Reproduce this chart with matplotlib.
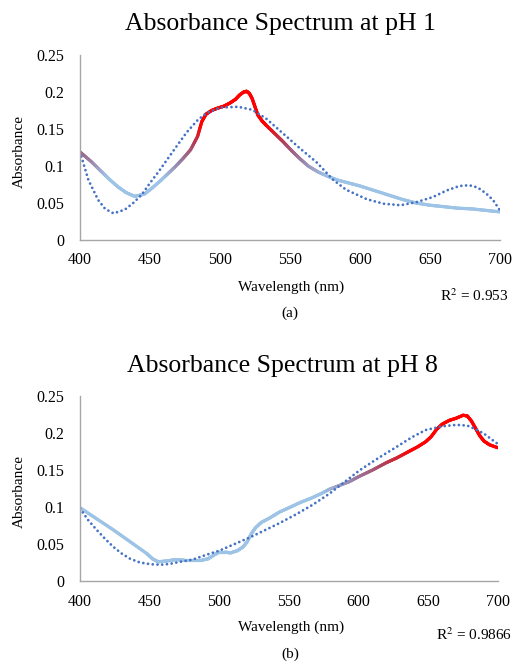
import numpy as np
import matplotlib
matplotlib.use("Agg")
import matplotlib.pyplot as plt
from matplotlib.collections import LineCollection
from matplotlib.colors import LinearSegmentedColormap, Normalize

plt.rcParams['font.family'] = ['Liberation Serif', 'DejaVu Serif']

# ---------------- data: pH 1 ----------------
ph1_nm = [400, 408, 415, 421, 427, 433, 439, 446, 452, 458, 463, 468, 474, 479, 484, 487,
          490, 494, 498, 503, 507, 511, 514, 517, 519, 521, 523, 525, 527, 530, 533, 539,
          545, 551, 557, 563, 570, 577, 584, 592, 600, 610, 620, 630, 640, 650, 660, 670,
          680, 690, 700]
ph1_abs = [0.119, 0.106, 0.093, 0.082, 0.072, 0.064, 0.059, 0.062, 0.071, 0.081, 0.090,
           0.099, 0.111, 0.122, 0.140, 0.160, 0.170, 0.175, 0.178, 0.181, 0.185, 0.190,
           0.196, 0.200, 0.201, 0.198, 0.191, 0.180, 0.169, 0.161, 0.155, 0.144, 0.133,
           0.121, 0.110, 0.100, 0.092, 0.086, 0.081, 0.077, 0.073, 0.067, 0.061, 0.055,
           0.050, 0.047, 0.045, 0.043, 0.042, 0.040, 0.038]
ph1_fit_nm = [400, 406, 413, 418, 424, 432, 438, 444, 450, 456, 462, 468, 476, 484, 490,
              500, 513, 523, 533, 545, 557, 569, 575, 581, 590, 605, 617, 629, 640, 652,
              662, 671, 678, 684, 690, 695, 700]
ph1_fit = [0.119, 0.081, 0.054, 0.042, 0.036, 0.041, 0.050, 0.061, 0.077, 0.092, 0.108,
           0.124, 0.145, 0.162, 0.171, 0.179, 0.180, 0.176, 0.164, 0.144, 0.124, 0.105,
           0.093, 0.081, 0.068, 0.055, 0.049, 0.047, 0.051, 0.058, 0.067, 0.073, 0.074,
           0.071, 0.063, 0.054, 0.040]
ph1_r2 = "0.953"

# ---------------- data: pH 8 ----------------
ph8_nm = [400, 412, 424, 436, 448, 452, 456, 462, 469, 475, 481, 487, 492, 496, 500, 504,
          508, 513, 517, 520, 523, 526, 530, 536, 543, 550, 558, 566, 573, 579, 586, 593,
          600, 610, 620, 627, 635, 642, 648, 652, 656, 660, 665, 670, 675, 678, 681, 684,
          687, 690, 694, 700]
ph8_abs = [0.099, 0.084, 0.069, 0.053, 0.037, 0.030, 0.026, 0.027, 0.029, 0.028, 0.028,
           0.028, 0.030, 0.035, 0.039, 0.039, 0.038, 0.041, 0.046, 0.053, 0.064, 0.072,
           0.079, 0.085, 0.093, 0.099, 0.106, 0.112, 0.118, 0.124, 0.129, 0.134, 0.141,
           0.150, 0.160, 0.166, 0.174, 0.181, 0.188, 0.195, 0.205, 0.212, 0.217, 0.220,
           0.224, 0.223, 0.216, 0.206, 0.196, 0.189, 0.184, 0.180]
ph8_fit_nm = [400, 406, 412, 418, 424, 430, 436, 443, 451, 458, 464, 472, 481, 490, 500,
              511, 522, 532, 543, 555, 567, 579, 590, 601, 614, 627, 638, 648, 660, 670,
              678, 684, 690, 695, 700]
ph8_fit = [0.098, 0.082, 0.069, 0.057, 0.046, 0.037, 0.030, 0.025, 0.0226, 0.022, 0.023,
           0.026, 0.029, 0.035, 0.041, 0.050, 0.059, 0.068, 0.078, 0.090, 0.103, 0.118,
           0.134, 0.150, 0.166, 0.181, 0.194, 0.204, 0.209, 0.211, 0.210, 0.205, 0.199,
           0.192, 0.185]
ph8_r2 = "0.9866"

x_ticks = [400, 450, 500, 550, 600, 650, 700]
y_ticks = [0, 0.05, 0.1, 0.15, 0.2, 0.25]
y_tick_labels = ["0", "0.05", "0.1", "0.15", "0.2", "0.25"]

# ---------------- style ----------------
W, H = 515, 661
fig = plt.figure(figsize=(W / 100, H / 100), dpi=100)
cmap = LinearSegmentedColormap.from_list(
    "bluered", ["#9DC3E6", "#9A7AA0", "#B0405A", "#FF0000"])
AX_GRAY = "#A6A6A6"
FIT_COLOR = "#4472C4"


def px_rect(left, top, right, bottom):
    return [left / W, 1 - bottom / H, (right - left) / W, (bottom - top) / H]


def gradient_line(ax, x, y, vmin, vmax):
    x = np.asarray(x, float)
    y = np.asarray(y, float)
    # subdivide each drawn segment for a smooth colour gradient (geometry unchanged)
    xs, ys = [], []
    for i in range(len(x) - 1):
        t = np.linspace(0, 1, 12, endpoint=False)
        xs.extend(x[i] + (x[i + 1] - x[i]) * t)
        ys.extend(y[i] + (y[i + 1] - y[i]) * t)
    xs.append(x[-1]); ys.append(y[-1])
    pts = np.column_stack([xs, ys]).reshape(-1, 1, 2)
    segs = np.concatenate([pts[:-1], pts[1:]], axis=1)
    mid = (np.array(ys[:-1]) + np.array(ys[1:])) / 2
    lc = LineCollection(segs, cmap=cmap, norm=Normalize(vmin, vmax),
                        linewidths=2.3, capstyle='round', joinstyle='round')
    lc.set_array(mid)
    ax.add_collection(lc)


def panel(rect, nm, ab, fnm, fit, vmin, vmax):
    ax = fig.add_axes(rect)
    gradient_line(ax, nm, ab, vmin, vmax)
    ax.plot(fnm, fit, color=FIT_COLOR, lw=2.0, linestyle=(0, (0.01, 1.7)),
            dash_capstyle='round')
    ax.set_xlim(400, 700)
    ax.set_ylim(0, 0.25)
    ax.set_xticks(x_ticks)
    ax.set_yticks(y_ticks)
    ax.set_yticklabels(y_tick_labels)
    for s in ("top", "right"):
        ax.spines[s].set_visible(False)
    for s in ("left", "bottom"):
        ax.spines[s].set_color(AX_GRAY)
        ax.spines[s].set_linewidth(1.0)
    ax.tick_params(axis='both', length=0, labelsize=11.5, colors='#000000')
    ax.tick_params(axis='y', pad=11)
    ax.tick_params(axis='x', pad=9)
    ax.patch.set_alpha(0)
    return ax


# panel (a)
panel(px_rect(80, 55, 500, 240), ph1_nm, ph1_abs, ph1_fit_nm, ph1_fit, 0.085, 0.155)
fig.text(280 / W, 1 - 24 / H, "Absorbance Spectrum at pH 1", ha='center', va='center',
         fontsize=18.5)
fig.text(19 / W, 1 - 152 / H, "Absorbance", rotation=90, ha='center', va='center',
         fontsize=11)
fig.text(291 / W, 1 - 287 / H, "Wavelength (nm)", ha='center', va='center', fontsize=11)
fig.text(508 / W, 1 - 296 / H, "R$^2$ = " + ph1_r2, ha='right', va='center',
         fontsize=11, math_fontfamily='stix')
fig.text(290 / W, 1 - 313 / H, "(a)", ha='center', va='center', fontsize=11)

# panel (b)
panel(px_rect(80, 396, 498, 581), ph8_nm, ph8_abs, ph8_fit_nm, ph8_fit, 0.12, 0.178)
fig.text(282 / W, 1 - 366 / H, "Absorbance Spectrum at pH 8", ha='center', va='center',
         fontsize=18.5)
fig.text(19 / W, 1 - 492 / H, "Absorbance", rotation=90, ha='center', va='center',
         fontsize=11)
fig.text(291 / W, 1 - 627 / H, "Wavelength (nm)", ha='center', va='center', fontsize=11)
fig.text(512 / W, 1 - 635 / H, "R$^2$ = " + ph8_r2, ha='right', va='center',
         fontsize=11, math_fontfamily='stix')
fig.text(290 / W, 1 - 654 / H, "(b)", ha='center', va='center', fontsize=11)

fig.savefig("out.png", dpi=100, facecolor='white')
